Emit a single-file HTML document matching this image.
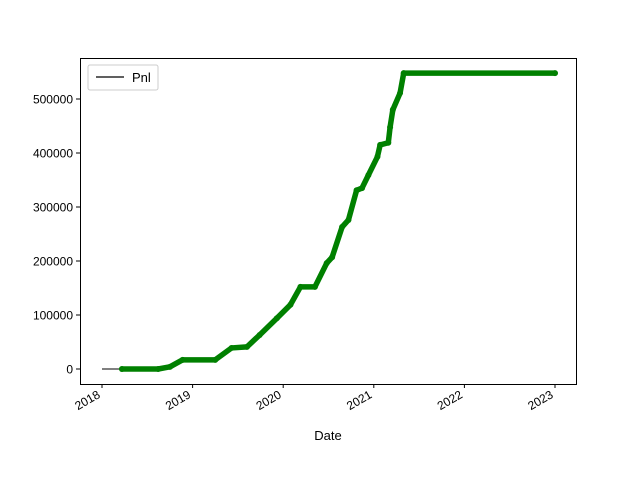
<!DOCTYPE html>
<html><head><meta charset="utf-8"><style>body{margin:0;background:#fff}svg{display:block;font-family:"Liberation Sans","DejaVu Sans",sans-serif}</style></head>
<body>
<svg id="chart" width="640" height="480" viewBox="0 0 640 480">
<rect width="640" height="480" fill="#fff"/>
<g id="plot"></g>
<rect x="80.5" y="58.5" width="496" height="326" fill="none" stroke="#000" stroke-width="1"/>
<g id="axes"></g>
<text x="328" y="440" font-size="13" text-anchor="middle">Date</text>
<g>
<rect x="88" y="65" width="70" height="25" rx="2" fill="#fff" stroke="#ccc"/>
<line x1="96" y1="77" x2="124" y2="77" stroke="#000" stroke-width="1.2"/>
<text x="132" y="82" font-size="13">Pnl</text>
</g>
</svg>
<script>
const years = [0.22,0.62,0.75,0.89,1.25,1.43,1.60,1.74,1.93,2.08,2.19,2.35,2.48,2.54,2.65,2.72,2.81,2.87,2.94,3.04,3.07,3.16,3.18,3.21,3.29,3.33,5.0];
const pnl = [0,0,4,17,17,39,41,63,94,119,152,152,196,207,263,276,331,335,359,393,415,419,448,480,511,548,548];
const xTicks = [2018,2019,2020,2021,2022,2023];
const yTicks = [0,100000,200000,300000,400000,500000];
const X = y => 102 + (y - 2018) * 90.6;
const Y = v => 369 - v * 0.00054;
const NS = "http://www.w3.org/2000/svg";
const plot = document.getElementById('plot'), axes = document.getElementById('axes');
function mk(tag, attrs, parent){const e=document.createElementNS(NS,tag);for(const k in attrs)e.setAttribute(k,attrs[k]);parent.appendChild(e);return e;}
const pts = [[X(2018),Y(0)]].concat(years.map((t,i)=>[X(2018+t),Y(pnl[i]*1000)]));
const bl = mk('polyline',{points:pts.map(p=>p.join(',')).join(' '),fill:'none',stroke:'#000','stroke-width':1},plot);


const gl = mk('polyline',{points:pts.slice(1).map(p=>p.join(',')).join(' '),fill:'none',stroke:'#008000','stroke-width':5.5,'stroke-linecap':'round','stroke-linejoin':'round'},plot);


years.forEach((t,i)=>{
  const c = mk('circle',{cx:X(2018+t),cy:Y(pnl[i]*1000),r:3,fill:'#008000'},plot);
  
  
});
xTicks.forEach(t=>{
  const x=X(t);
  const l = mk('line',{x1:x,y1:384,x2:x,y2:388,stroke:'#000'},axes);
  
  
  const tx = mk('text',{x:x-1,y:397,'font-size':12,'text-anchor':'end',transform:`rotate(-30 ${x-1} 397)`},axes);
  tx.textContent=t;
  
  
});
yTicks.forEach(v=>{
  const y=Y(v);
  const l = mk('line',{x1:76,y1:y,x2:80,y2:y,stroke:'#000'},axes);
  
  
  const tx = mk('text',{x:73,y:y+4.5,'font-size':12,'text-anchor':'end'},axes);
  tx.textContent=v;
  
  
});
</script>
</body></html>
